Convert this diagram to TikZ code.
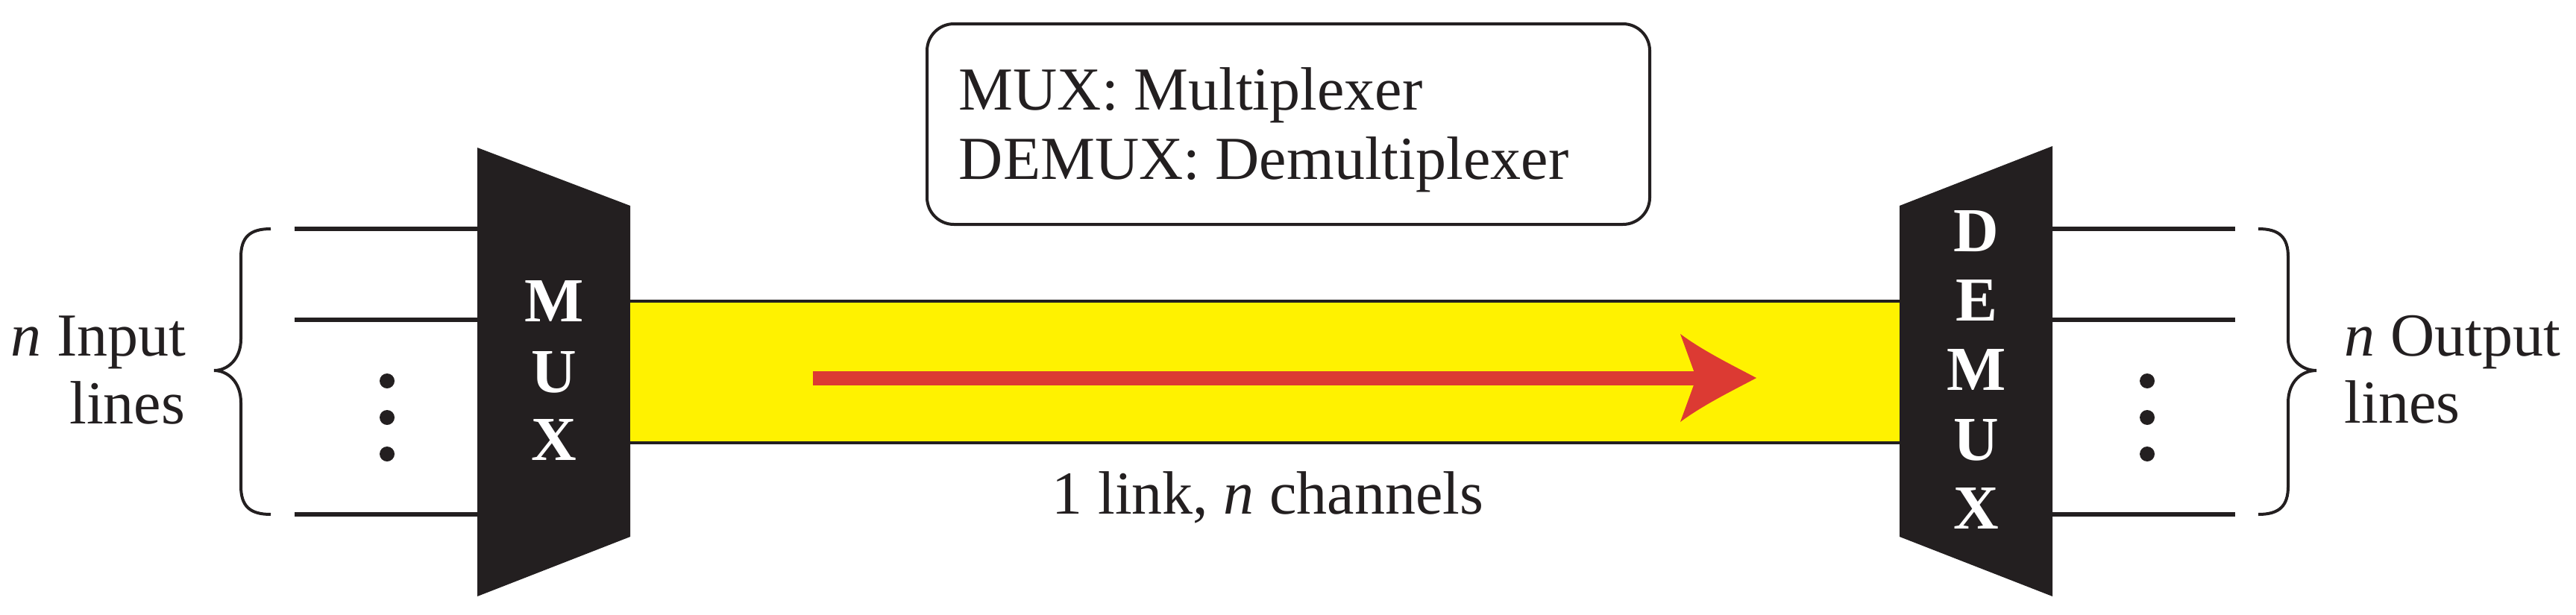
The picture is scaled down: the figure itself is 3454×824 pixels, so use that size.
\documentclass[tikz,border=0pt]{standalone}
\usepackage{fontspec}
\setmainfont{Liberation Serif}
\definecolor{muxblack}{HTML}{231F20}
\definecolor{linkyellow}{HTML}{FFF200}
\definecolor{arrowred}{HTML}{DC3A33}
\begin{document}
\begin{tikzpicture}[x=0.25pt, y=-0.25pt,
  txt/.style={font=\fontsize{20.5}{23}\selectfont, inner sep=0pt, text=muxblack},
  boxletter/.style={font=\fontsize{21}{23}\selectfont\bfseries, text=white, inner sep=0pt, anchor=base},
  wire/.style={line width=1.5pt, draw=muxblack},
  bracestyle/.style={line width=1pt, draw=muxblack},
  dotnode/.style={circle, fill=muxblack, inner sep=0pt, minimum size=5pt},
  blockfill/.style={fill=muxblack},
  legendbox/.style={draw=muxblack, line width=1pt, rounded corners=9pt, fill=white}]

\useasboundingbox[fill=white] (0,0) rectangle (3454,824);

% ---------- MUX ----------
\fill[blockfill] (640,198) -- (845,276) -- (845,720) -- (640,800) -- cycle;
\coordinate (muxin1) at (640,307);
\coordinate (muxin2) at (640,429);
\coordinate (muxin3) at (640,690);
\node[boxletter] (muxM) at (743,431) {M};
\node[boxletter] (muxU) at (743,526) {U};
\node[boxletter] (muxX) at (743,617) {X};

% ---------- DEMUX ----------
\fill[blockfill] (2547,276) -- (2752,196) -- (2752,800) -- (2547,720) -- cycle;
\coordinate (demuxout1) at (2752,307);
\coordinate (demuxout2) at (2752,429);
\coordinate (demuxout3) at (2752,690);
\node[boxletter] (dmD) at (2650,337) {D};
\node[boxletter] (dmE) at (2650,430) {E};
\node[boxletter] (dmM) at (2650,523) {M};
\node[boxletter] (dmU) at (2650,617) {U};
\node[boxletter] (dmX) at (2650,709) {X};

% ---------- link ----------
\node[rectangle, fill=linkyellow, inner sep=0pt, minimum width=425.5pt, minimum height=47pt] (link) at (1696,499) {};
\draw[line width=1.1pt, muxblack] (link.north west) -- (link.north east);
\draw[line width=1.1pt, muxblack] (link.south west) -- (link.south east);
\node[txt, anchor=base] (linklabel) at (1700,689) {1 link, \textit{n} channels};

% red arrow
\coordinate (arrowstart) at (1090,507);
\coordinate (arrowtip) at (2355,507);
\fill[arrowred] (arrowstart) ++(0,-9.5) rectangle (2276,516.5);
\fill[arrowred] (arrowtip) .. controls (2323,490) and (2284,471) .. (2253,448)
   -- (2271,497.5) -- (2271,516.5) -- (2253,566)
   .. controls (2284,543) and (2323,524) .. (arrowtip) -- cycle;

% ---------- input lines ----------
\coordinate (in1) at (395,307);
\coordinate (in2) at (395,429);
\coordinate (in3) at (395,690);
\draw[wire] (in1) -- (muxin1);
\draw[wire] (in2) -- (muxin2);
\draw[wire] (in3) -- (muxin3);
\node[dotnode] (ldot1) at (519,511) {};
\node[dotnode] (ldot2) at (519,560) {};
\node[dotnode] (ldot3) at (519,609) {};

% ---------- output lines ----------
\coordinate (out1) at (2997,307);
\coordinate (out2) at (2997,429);
\coordinate (out3) at (2997,690);
\draw[wire] (demuxout1) -- (out1);
\draw[wire] (demuxout2) -- (out2);
\draw[wire] (demuxout3) -- (out3);
\node[dotnode] (rdot1) at (2879,511) {};
\node[dotnode] (rdot2) at (2879,560) {};
\node[dotnode] (rdot3) at (2879,609) {};

% ---------- braces ----------
\draw[bracestyle] (363,307) .. controls (335,307) and (323,318) .. (323,345)
  -- (323,455) .. controls (323,482) and (305,497) .. (287,497)
  .. controls (305,497) and (323,512) .. (323,540)
  -- (323,652) .. controls (323,679) and (335,690) .. (363,690);
\draw[bracestyle] (3028,307) .. controls (3056,307) and (3068,318) .. (3068,345)
  -- (3068,455) .. controls (3068,482) and (3086,497) .. (3106,497)
  .. controls (3086,497) and (3068,512) .. (3068,540)
  -- (3068,652) .. controls (3068,679) and (3056,690) .. (3028,690);

% ---------- side labels ----------
\node[txt, anchor=base east] (inlabel1) at (250,477) {\textit{n} Input};
\node[txt, anchor=base east] (inlabel2) at (249,568) {lines};
\node[txt, anchor=base west] (outlabel1) at (3143,477) {\textit{n} Output};
\node[txt, anchor=base west] (outlabel2) at (3143,567) {lines};

% ---------- legend ----------
\node[legendbox, minimum width=242.25pt, minimum height=67.25pt] (legend) at (1727.5,166.5) {};
\node[txt, anchor=base west] (legend1) at (1285,147) {MUX: Multiplexer};
\node[txt, anchor=base west] (legend2) at (1285,240) {DEMUX: Demultiplexer};
\end{tikzpicture}
\end{document}
